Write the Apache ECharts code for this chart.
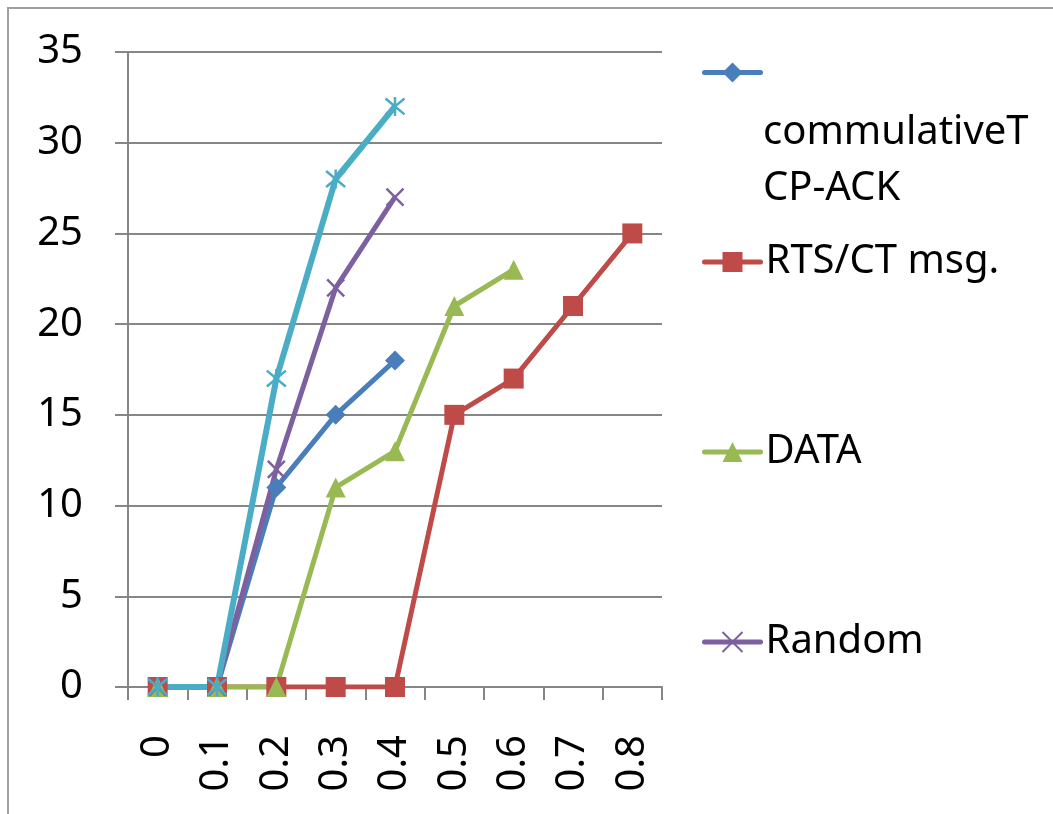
<!DOCTYPE html>
<html>
<head>
<meta charset="utf-8">
<script src="https://cdn.jsdelivr.net/npm/echarts@6/dist/echarts.min.js"></script>
<style>
html,body{margin:0;padding:0;background:#fff;}
#c{width:1053px;height:814px;}
</style>
</head>
<body>
<div id="c"></div>
<script>
// ---- data ----
var categories = ['0', '0.1', '0.2', '0.3', '0.4', '0.5', '0.6', '0.7', '0.8'];
var yTicks = [0, 5, 10, 15, 20, 25, 30, 35];
var tcpAck = [0, 0, 11, 15, 18];
var rtsCts = [0, 0, 0, 0, 0, 15, 17, 21, 25];
var dataPkts = [0, 0, 0, 11, 13, 21, 23];
var randomVals = [0, 0, 12, 22, 27];
var series5 = [0, 0, 17, 28, 32];
var seriesNames = ['commulativeTCP-ACK', 'RTS/CT msg.', 'DATA', 'Random', 'Series5'];
var seriesColors = ['#4A7EBB', '#BE4B48', '#98B954', '#7D60A0', '#4BACC6'];

var FONT = 'Noto Sans';
var GRID = '#868686';
var crossPath = 'path://M0,0L10,10M10,0L0,10';
var starPath = 'path://M0,0L10,10M10,0L0,10M5,-1L5,11';

function lineSeries(name, data, color, symbol, size, stroked, width) {
  return {
    name: name,
    type: 'line',
    data: data,
    symbol: symbol,
    symbolSize: size,
    showAllSymbol: true,
    lineStyle: { color: color, width: width },
    itemStyle: stroked ? { color: color, borderColor: color, borderWidth: 2.5 } : { color: color, borderWidth: 0 },
    emphasis: { disabled: true },
    z: 2
  };
}

function legendFor(idx, top, fmt) {
  return {
    data: [seriesNames[idx]],
    left: 702,
    top: top,
    padding: 0,
    itemWidth: 56,
    itemHeight: 25,
    selectedMode: false,
    formatter: fmt,
    lineStyle: { color: seriesColors[idx], width: 5, cap: 'round' },
    textStyle: { fontFamily: FONT, fontSize: 40, color: '#000' }
  };
}

var chart = echarts.init(document.getElementById('c'), null, { renderer: 'canvas' });
chart.setOption({
  animation: false,
  backgroundColor: '#fff',
  textStyle: { fontFamily: FONT },
  grid: { left: 128, right: 391, top: 52, bottom: 127, containLabel: false },
  xAxis: {
    type: 'category',
    data: categories,
    boundaryGap: true,
    axisLine: { show: true, lineStyle: { color: GRID, width: 2 } },
    axisTick: { show: true, length: 13, interval: 0, lineStyle: { color: GRID, width: 2 } },
    axisLabel: { rotate: 90, margin: 48, interval: 0, fontSize: 40, fontFamily: FONT, color: '#000' },
    splitLine: { show: false }
  },
  yAxis: {
    type: 'value',
    min: yTicks[0],
    max: yTicks[yTicks.length - 1],
    interval: 5,
    axisLine: { show: true, lineStyle: { color: GRID, width: 2 } },
    axisTick: { show: true, length: 13, lineStyle: { color: GRID, width: 2 } },
    axisLabel: { margin: 45, fontSize: 40, fontFamily: FONT, color: '#000' },
    splitLine: { show: true, lineStyle: { color: GRID, width: 2 } }
  },
  legend: [
    legendFor(0, 60, function () { return ''; }),
    legendFor(1, 242, null),
    legendFor(2, 432, null),
    legendFor(3, 622, null)
  ],
  graphic: [
    {
      type: 'rect',
      shape: { x: 8, y: 8, width: 1300, height: 1000 },
      style: { fill: 'none', stroke: '#a0a0a0', lineWidth: 2 },
      silent: true, z: -10
    },
    {
      type: 'text',
      x: 763, y: 105,
      style: {
        text: 'commulativeT\nCP-ACK',
        font: '40px "Noto Sans"',
        lineHeight: 56,
        fill: '#000',
        verticalAlign: 'top'
      },
      silent: true
    }
  ],
  series: [
    lineSeries(seriesNames[0], tcpAck, seriesColors[0], 'diamond', 20, false, 5),
    lineSeries(seriesNames[1], rtsCts, seriesColors[1], 'rect', 20, false, 5),
    lineSeries(seriesNames[2], dataPkts, seriesColors[2], 'triangle', 20, false, 5),
    lineSeries(seriesNames[3], randomVals, seriesColors[3], crossPath, 17, true, 5),
    lineSeries(seriesNames[4], series5, seriesColors[4], starPath, 19, true, 6)
  ]
});
</script>
</body>
</html>
